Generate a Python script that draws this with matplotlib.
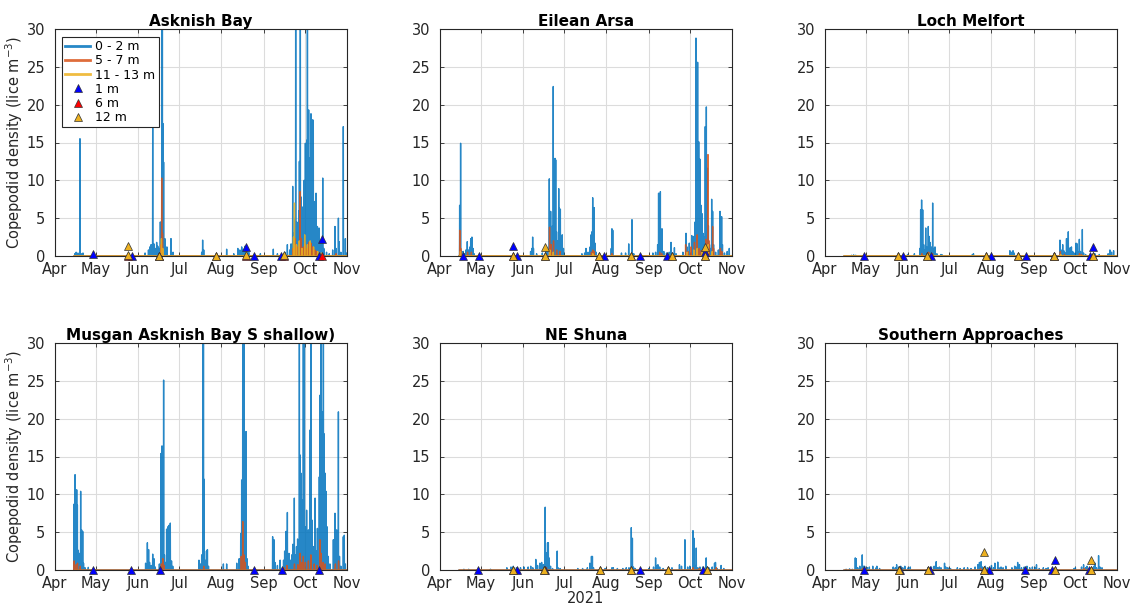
"""
Modelled copepodid densities at six sites, April - November 2021,
with observed densities from plankton samples overlaid.
"""

from datetime import datetime

import numpy as np
import matplotlib
matplotlib.use("Agg")
import matplotlib.pyplot as plt
import matplotlib.dates as mdates

plt.rcParams["font.family"] = ["DejaVu Sans"]

START = datetime(2021, 4, 1)
RUN_START = 14.0   # model output begins mid April (days after 1 Apr)
RUN_END = 214.0    # 1 Nov

SITES = ["Asknish Bay", "Eilean Arsa", "Loch Melfort",
         "Musgan Asknish Bay S shallow)", "NE Shuna", "Southern Approaches"]

# (days after 1 Apr, density) for peaks in each depth band
ASKNISH_0_2 = [
    (14.5, 0.3), (15.5, 0.5), (16.8, 0.4), (18.3, 15.5), (19.2, 0.3), (20.5, 0.4),
    (66.0, 0.4), (68.5, 0.8), (69.5, 1.2), (70.4, 1.5), (71.6, 16.9), (72.5, 1.6),
    (73.5, 1.0), (74.5, 1.8), (75.3, 1.3), (76.2, 1.0), (77.2, 4.5), (77.8, 2.0),
    (78.3, 45.0), (78.7, 30.5), (79.1, 17.5), (79.6, 12.4), (80.5, 2.3), (82.0, 1.2),
    (85.0, 2.3), (86.5, 0.5),
    (107.5, 0.5), (108.2, 2.1), (109.0, 0.8), (125.8, 0.9), (131.0, 0.3), (134.0, 1.0),
    (135.5, 0.8), (136.8, 1.2), (138.0, 0.9), (139.2, 1.3), (140.5, 0.8), (142.0, 0.5),
    (150.5, 0.3), (160.0, 0.9), (163.0, 0.3),
    (168.5, 0.5), (170.3, 1.5), (172.0, 0.8), (173.0, 1.6), (174.2, 9.2), (175.0, 3.0),
    (175.8, 5.0), (176.4, 45.0), (177.2, 4.5), (178.0, 2.5), (178.6, 6.0), (179.1, 12.5),
    (179.8, 40.0), (180.3, 7.8), (181.0, 4.5), (181.8, 6.5), (182.6, 10.0), (183.5, 14.9),
    (184.0, 8.0), (184.5, 15.3), (185.0, 50.0), (185.5, 12.0), (185.9, 19.3), (186.5, 9.0),
    (187.0, 13.0), (187.6, 18.8), (188.2, 6.0), (188.9, 18.0), (189.3, 17.9), (190.1, 7.2),
    (190.6, 3.5), (191.3, 8.3), (191.8, 2.5), (192.3, 3.9), (193.5, 3.7), (194.2, 1.5),
    (195.0, 2.0), (196.2, 10.3), (197.0, 1.0), (199.0, 0.5), (201.0, 0.3), (203.5, 0.8),
    (205.2, 3.9), (206.0, 1.0), (207.7, 5.0), (208.3, 1.9), (209.5, 0.5), (211.3, 17.1),
    (212.8, 2.3), (213.5, 0.4),
]
ASKNISH_5_7 = [
    (77.8, 1.5), (78.2, 10.3), (78.8, 3.0), (174.5, 1.0), (176.0, 2.3), (177.5, 1.2),
    (179.6, 8.5), (180.5, 2.3), (182.0, 1.2), (183.5, 1.5), (184.8, 1.0), (186.0, 1.8),
    (187.5, 1.7), (189.0, 1.2), (190.5, 0.8), (192.0, 0.6), (194.0, 0.4), (206.0, 0.3),
]
ASKNISH_11_13 = [
    (78.0, 2.3), (79.0, 1.0), (174.8, 2.5), (175.5, 7.0), (177.0, 1.5), (179.0, 2.0),
    (181.0, 1.0), (183.0, 2.8), (185.0, 1.5), (187.0, 2.0), (189.5, 1.2), (192.5, 0.6),
    (195.5, 0.4),
]

EILEAN_0_2 = [
    (14.4, 6.7), (15.1, 14.9), (15.8, 0.6), (17.0, 0.6), (18.0, 0.3), (19.0, 0.8),
    (20.0, 1.9), (21.0, 0.8), (22.0, 1.2), (22.5, 2.3), (23.4, 2.5), (24.2, 1.0), (25.0, 0.3),
    (66.4, 0.6), (67.4, 1.0), (67.9, 2.5), (68.5, 1.0), (70.8, 0.3), (75.0, 0.4), (77.5, 0.6),
    (78.5, 0.8), (80.1, 10.2), (80.6, 3.0), (81.1, 5.9), (81.8, 2.0), (82.5, 4.0), (83.0, 22.4),
    (83.6, 3.5), (84.3, 12.9), (84.8, 12.7), (85.4, 3.2), (86.0, 2.0), (87.0, 8.9), (87.4, 6.3),
    (88.2, 6.2), (88.8, 2.0), (89.6, 2.8), (90.5, 1.0),
    (104.0, 0.3), (106.0, 0.4), (107.0, 1.0), (108.5, 0.5), (110.0, 1.2), (110.7, 2.8),
    (111.4, 3.2), (111.9, 7.7), (112.9, 6.4), (113.6, 1.7), (114.5, 0.5), (125.5, 1.0),
    (126.0, 3.6), (126.6, 3.4), (133.0, 0.4), (136.0, 0.4), (138.3, 1.6), (140.7, 4.8),
    (142.0, 0.3),
    (156.0, 0.4), (158.0, 0.5), (159.5, 1.5), (160.2, 8.3), (161.5, 8.5), (162.0, 2.0),
    (162.7, 3.6), (164.0, 0.6), (166.0, 0.4), (168.0, 0.5), (169.3, 1.8), (171.8, 1.1),
    (173.0, 0.3),
    (178.0, 0.5), (180.3, 3.0), (181.0, 1.2), (182.7, 1.7), (184.5, 2.7), (185.3, 2.5),
    (186.2, 2.6), (187.0, 4.5), (187.6, 28.8), (188.2, 14.2), (188.8, 25.6), (189.2, 9.2),
    (189.6, 15.1), (190.0, 6.2), (190.5, 12.8), (191.3, 6.7), (192.0, 5.6), (192.7, 3.0),
    (193.5, 2.5), (194.4, 17.1), (195.2, 19.7), (196.0, 11.6), (196.7, 4.0), (197.5, 1.5),
    (198.4, 1.0), (199.1, 7.5), (199.8, 5.9), (200.5, 1.5), (202.0, 0.5), (204.0, 0.8),
    (205.2, 5.9), (206.4, 5.2), (207.0, 1.5), (208.5, 0.4), (210.5, 0.6), (212.0, 1.0),
]
EILEAN_5_7 = [
    (14.5, 3.4), (15.2, 1.0), (20.2, 0.5), (23.0, 0.5), (80.3, 3.8), (81.5, 1.5), (83.2, 2.0),
    (85.5, 0.8), (88.0, 0.6), (111.0, 0.5), (112.0, 0.8), (113.0, 0.6), (126.0, 0.3),
    (161.0, 0.5), (162.5, 0.3), (180.0, 1.5), (182.0, 0.6), (184.0, 1.2), (186.5, 1.8),
    (188.5, 2.8), (190.0, 1.0), (191.5, 0.7), (193.0, 0.4), (194.8, 2.2), (196.4, 13.4),
    (197.2, 2.0), (199.8, 3.9), (200.5, 1.0), (205.5, 1.0), (206.5, 0.6),
]
EILEAN_11_13 = [
    (15.0, 0.6), (80.5, 0.8), (83.0, 0.5), (112.0, 0.3), (181.0, 0.5), (186.0, 0.8),
    (188.5, 1.0), (192.0, 0.5), (195.0, 0.8), (196.5, 1.5), (199.5, 0.6),
]

MELFORT_0_2 = [
    (19.5, 0.1), (21.0, 0.15), (22.5, 0.1), (60.5, 0.2), (65.5, 0.3), (69.5, 1.0),
    (70.1, 6.1), (70.8, 7.4), (71.6, 6.1), (72.3, 1.5), (73.0, 0.8), (73.8, 3.7), (74.5, 1.2),
    (75.7, 3.9), (76.2, 2.6), (77.0, 1.8), (77.8, 1.2), (78.9, 7.0), (79.5, 1.0), (80.6, 1.2),
    (82.0, 0.3), (85.0, 0.2), (86.0, 0.15),
    (108.0, 0.2), (108.8, 0.3), (135.5, 0.7), (136.8, 0.5), (137.8, 0.7), (138.6, 0.4),
    (172.2, 2.1), (173.0, 0.8), (174.2, 1.5), (175.0, 0.7), (176.2, 0.4), (177.0, 2.3),
    (178.3, 3.2), (179.0, 1.0), (179.8, 1.1), (180.6, 1.2), (181.5, 0.6), (182.5, 0.4),
    (184.0, 1.7), (184.9, 1.6), (185.5, 0.5), (186.4, 2.2), (187.2, 0.6), (188.6, 3.5),
    (189.5, 0.4), (191.0, 0.2), (196.5, 0.2), (197.8, 0.3), (201.0, 0.2), (207.5, 0.3),
    (208.8, 0.8), (210.0, 0.5), (211.5, 0.7),
]
MELFORT_5_7 = [(71.0, 0.3), (76.0, 0.5), (78.8, 0.3), (172.5, 0.6), (175.5, 0.2),
               (186.5, 0.3), (188.0, 0.2)]
MELFORT_11_13 = [(76.0, 0.3), (172.8, 0.2)]

MUSGAN_0_2 = [
    (13.9, 8.7), (14.7, 12.6), (15.4, 4.4), (15.9, 10.6), (16.4, 8.6), (17.1, 2.6),
    (17.8, 2.2), (18.8, 10.4), (19.5, 5.3), (20.3, 5.1), (20.9, 0.9), (22.0, 0.3), (24.4, 0.35),
    (66.4, 0.9), (67.7, 3.6), (68.6, 2.7), (69.3, 1.0), (70.5, 0.6), (71.6, 2.1), (72.5, 1.5),
    (73.5, 0.4), (76.5, 0.8), (77.7, 15.4), (78.4, 16.4), (78.9, 7.5), (79.6, 25.1),
    (80.2, 2.0), (80.9, 1.0), (81.8, 5.4), (82.6, 5.7), (83.5, 5.9), (84.5, 6.2), (85.4, 1.2),
    (86.3, 0.5),
    (105.5, 1.3), (106.5, 0.8), (107.5, 2.0), (108.4, 38.0), (108.8, 34.0), (109.2, 12.0),
    (110.0, 1.3), (111.0, 2.5), (111.7, 2.7), (112.5, 0.5),
    (123.4, 0.8), (125.8, 0.8), (133.2, 0.9), (135.0, 1.5), (136.1, 4.8), (136.8, 11.9),
    (137.2, 6.0), (137.6, 40.0), (138.0, 11.3), (138.5, 35.0), (139.3, 9.3), (140.0, 18.3),
    (140.7, 1.5), (141.5, 0.5),
    (159.5, 4.4), (160.5, 4.0), (161.2, 1.0), (163.0, 0.6), (165.0, 1.3), (167.5, 1.3),
    (168.3, 2.5), (169.3, 5.1), (170.3, 7.6), (171.5, 2.2), (172.5, 1.3), (173.5, 2.0),
    (174.3, 3.4), (175.4, 9.5), (176.2, 2.0), (177.0, 3.1), (177.8, 4.1), (179.1, 40.0),
    (179.6, 15.2), (180.2, 12.8), (180.8, 7.5), (181.4, 9.3), (182.0, 45.0), (182.8, 40.0),
    (183.5, 5.7), (184.4, 7.9), (185.7, 5.3), (186.3, 3.0), (186.9, 18.5), (187.6, 45.0),
    (188.3, 6.6), (189.2, 3.1), (190.6, 9.5), (191.5, 2.5), (192.3, 5.5), (193.0, 1.5),
    (193.7, 12.3), (194.2, 23.1), (195.0, 50.0), (195.7, 20.3), (196.2, 20.9), (196.7, 45.0),
    (197.2, 18.0), (197.9, 12.8), (198.6, 10.4), (199.5, 5.7), (200.3, 1.8), (201.5, 0.8),
    (204.0, 4.0), (205.2, 7.5), (205.8, 3.0), (206.4, 5.3), (207.7, 20.9), (208.5, 1.8),
    (209.5, 0.5), (211.3, 4.4), (212.0, 4.6), (212.8, 0.8),
]
MUSGAN_5_7 = [
    (14.0, 1.2), (15.5, 0.7), (16.5, 0.9), (18.5, 0.5), (78.0, 0.8), (79.0, 1.5), (80.0, 0.6),
    (109.0, 0.5), (136.5, 1.8), (137.6, 6.4), (138.5, 2.0), (139.5, 1.0), (168.0, 0.3),
    (170.0, 0.6), (175.5, 0.8), (178.0, 0.7), (179.6, 2.2), (181.0, 1.0), (182.0, 1.8),
    (183.5, 1.0), (185.7, 1.2), (187.5, 2.0), (190.0, 0.8), (192.0, 0.6), (194.2, 4.0),
    (195.0, 2.2), (196.5, 1.0), (198.0, 0.8), (205.5, 0.8), (207.8, 1.2),
]
MUSGAN_11_13 = []

SHUNA_0_2 = [
    (17.5, 0.1), (21.0, 0.1), (28.0, 0.1), (37.0, 0.1), (49.0, 0.3), (52.0, 0.4), (53.7, 0.5),
    (56.0, 0.3), (59.0, 0.3), (61.5, 0.4), (64.6, 0.4), (66.5, 0.5), (68.0, 0.3), (70.2, 1.4),
    (71.5, 0.6), (73.2, 0.9), (74.5, 1.0), (75.8, 0.7), (77.1, 8.3), (77.6, 1.3), (78.0, 2.3),
    (78.8, 3.6), (79.4, 3.6), (79.9, 1.6), (81.0, 0.5), (82.5, 0.2), (85.9, 2.5), (86.5, 0.3),
    (88.0, 0.2),
    (101.0, 0.2), (104.5, 0.2), (108.0, 0.3), (109.8, 0.9), (111.0, 1.8), (111.7, 1.8),
    (112.5, 0.3), (121.0, 0.2), (126.0, 0.3), (127.0, 0.3), (130.0, 0.2), (134.0, 0.2),
    (136.5, 0.3), (138.5, 0.3), (140.2, 5.6), (141.0, 4.2), (141.8, 0.4), (143.0, 0.2),
    (153.0, 0.2), (156.5, 0.4), (158.0, 1.6), (158.5, 0.6), (159.7, 0.7), (161.0, 0.4),
    (163.5, 0.2), (167.0, 0.2), (170.0, 0.3), (175.5, 0.7), (177.0, 0.5), (179.5, 4.0),
    (181.5, 0.4), (183.0, 0.5), (185.4, 5.2), (186.1, 4.2), (186.8, 0.6), (187.8, 2.9),
    (189.0, 0.3), (190.5, 0.4), (192.5, 0.4), (195.1, 1.6), (197.0, 0.3), (199.5, 0.4),
    (201.2, 0.9), (201.9, 1.0), (203.0, 0.2), (206.0, 0.6), (208.0, 0.2),
]
SHUNA_5_7 = [(78.0, 0.3), (140.5, 0.2), (185.5, 0.3), (190.0, 0.2), (202.5, 0.3)]
SHUNA_11_13 = []

SOUTH_0_2 = [
    (15.5, 0.1), (18.0, 0.15), (20.0, 0.1), (22.2, 1.6), (22.9, 1.5), (24.0, 0.3), (25.5, 0.5),
    (27.3, 2.0), (28.3, 0.5), (29.0, 0.5), (31.0, 0.3), (32.5, 0.4), (35.0, 0.5), (37.5, 0.3),
    (38.0, 0.5), (40.0, 0.2),
    (50.0, 0.4), (51.5, 0.3), (52.5, 0.7), (54.0, 0.4), (55.5, 0.5), (57.0, 0.3), (58.5, 0.5),
    (61.0, 0.3), (62.5, 0.4),
    (75.5, 0.3), (78.0, 0.4), (80.0, 0.5), (81.5, 1.1), (82.5, 0.3), (83.8, 0.4), (85.0, 0.3),
    (87.6, 0.9), (88.5, 0.4), (90.0, 0.3), (92.0, 0.2),
    (97.0, 0.3), (99.0, 0.2), (102.0, 0.3), (104.5, 0.3), (107.0, 0.2), (110.0, 0.4),
    (112.0, 0.7), (113.2, 1.0), (114.4, 1.1), (115.5, 0.4), (117.5, 0.5), (119.0, 0.3),
    (122.0, 0.6), (123.5, 0.3), (124.5, 0.9), (126.6, 1.05), (127.5, 0.3), (129.0, 0.4),
    (130.5, 0.3), (132.5, 0.5),
    (137.0, 0.3), (139.0, 0.5), (140.0, 0.4), (141.2, 1.0), (142.5, 0.7), (144.0, 0.3),
    (146.0, 0.4), (148.0, 0.5), (150.0, 0.3), (152.0, 0.4), (154.0, 0.3), (155.0, 0.7),
    (157.0, 0.2), (160.0, 0.3), (162.0, 0.2), (163.5, 0.3),
    (182.5, 0.2), (183.5, 0.3), (188.0, 0.4), (189.5, 0.7), (191.0, 0.3), (192.0, 0.5),
    (195.5, 0.3), (197.0, 0.5), (198.0, 0.9), (199.0, 0.3), (200.5, 1.9), (201.5, 0.4),
    (203.0, 0.3),
]
SOUTH_5_7 = [(27.5, 0.2), (114.0, 0.2), (190.0, 0.2)]
SOUTH_11_13 = []

# observed densities from net samples: (days after 1 Apr, density)
ASKNISH_OBS_1M = [(27.6, 0.2), (56.2, 0.0), (76.2, 0.0), (140.0, 1.2), (145.9, 0.0),
                  (165.4, 0.0), (193.7, 0.0), (195.4, 2.3)]
ASKNISH_OBS_6M = [(53.7, 0.0), (76.2, 0.0), (118.0, 0.0), (140.0, 0.0), (167.9, 0.0),
                  (195.4, 0.0)]
ASKNISH_OBS_12M = [(53.7, 1.3), (53.7, 0.1), (76.2, 0.0), (118.0, 0.0), (140.0, 0.1),
                   (167.9, 0.1)]

EILEAN_OBS_1M = [(17.1, 0.0), (28.3, 0.0), (53.2, 1.3), (56.7, 0.0), (120.4, 0.0),
                 (146.6, 0.0), (166.1, 0.0), (194.2, 0.5)]
EILEAN_OBS_6M = [(53.2, 0.0), (77.2, 0.0), (116.3, 0.0), (140.0, 0.0), (170.0, 0.0),
                 (194.4, 0.0)]
EILEAN_OBS_12M = [(53.2, 0.0), (77.2, 1.2), (77.2, 0.0), (116.3, 0.0), (140.0, 0.0),
                  (170.0, 0.0), (194.4, 1.2), (194.4, 0.0)]

MELFORT_OBS_1M = [(28.6, 0.0), (56.9, 0.0), (77.4, 0.0), (121.4, 0.0), (147.0, 0.0),
                  (167.8, 0.0), (194.2, 0.0), (196.1, 1.2)]
MELFORT_OBS_6M = [(53.7, 0.0), (75.0, 0.0), (118.0, 0.0), (141.2, 0.0), (167.8, 0.0),
                  (196.1, 0.0)]
MELFORT_OBS_12M = [(53.7, 0.0), (75.0, 0.0), (118.0, 0.0), (141.2, 0.0), (167.8, 0.0),
                   (196.1, 0.0)]

MUSGAN_OBS_1M = [(27.6, 0.0), (55.7, 0.0), (77.0, 0.0), (146.2, 0.0), (166.3, 0.0),
                 (193.6, 0.0)]
MUSGAN_OBS_6M = []
MUSGAN_OBS_12M = []

SHUNA_OBS_1M = [(28.0, 0.0), (56.6, 0.0), (77.3, 0.0), (146.3, 0.0), (192.7, 0.0)]
SHUNA_OBS_6M = [(53.2, 0.0), (76.1, 0.0), (117.0, 0.0), (140.0, 0.0), (167.0, 0.0),
                (195.9, 0.0)]
SHUNA_OBS_12M = [(53.2, 0.0), (76.1, 0.0), (117.0, 0.0), (140.0, 0.0), (167.0, 0.0),
                 (195.9, 0.0)]

SOUTH_OBS_1M = [(28.3, 0.0), (55.1, 0.0), (77.0, 0.0), (120.5, 0.0), (146.6, 0.0),
                (166.3, 0.0), (168.3, 1.3), (193.7, 0.0)]
SOUTH_OBS_6M = [(54.1, 0.0), (75.4, 0.0), (116.8, 0.0), (168.8, 0.0), (194.9, 0.0)]
SOUTH_OBS_12M = [(54.1, 0.0), (75.4, 0.0), (116.8, 2.4), (116.8, 0.0), (168.8, 0.0),
                 (194.9, 1.3), (194.9, 0.0)]

MODEL = [
    (ASKNISH_0_2, ASKNISH_5_7, ASKNISH_11_13),
    (EILEAN_0_2, EILEAN_5_7, EILEAN_11_13),
    (MELFORT_0_2, MELFORT_5_7, MELFORT_11_13),
    (MUSGAN_0_2, MUSGAN_5_7, MUSGAN_11_13),
    (SHUNA_0_2, SHUNA_5_7, SHUNA_11_13),
    (SOUTH_0_2, SOUTH_5_7, SOUTH_11_13),
]
OBS = [
    (ASKNISH_OBS_1M, ASKNISH_OBS_6M, ASKNISH_OBS_12M),
    (EILEAN_OBS_1M, EILEAN_OBS_6M, EILEAN_OBS_12M),
    (MELFORT_OBS_1M, MELFORT_OBS_6M, MELFORT_OBS_12M),
    (MUSGAN_OBS_1M, MUSGAN_OBS_6M, MUSGAN_OBS_12M),
    (SHUNA_OBS_1M, SHUNA_OBS_6M, SHUNA_OBS_12M),
    (SOUTH_OBS_1M, SOUTH_OBS_6M, SOUTH_OBS_12M),
]

BAND_LABELS = ["0 - 2 m", "5 - 7 m", "11 - 13 m"]
OBS_LABELS = ["1 m", "6 m", "12 m"]
BAND_COLORS = ["#0072BD", "#D95319", "#EDB120"]
OBS_COLORS = ["#0000FF", "#FF0000", "#EDB120"]

T0 = mdates.date2num(START)


def spike_series(peaks, half_width=0.12):
    """Expand (day, value) peaks into a zero-based series of narrow spikes."""
    t = [RUN_START]
    y = [0.0]
    for day, val in sorted(peaks):
        t += [day - half_width, day, day + half_width]
        y += [0.0, val, 0.0]
    t.append(RUN_END)
    y.append(0.0)
    return T0 + np.array(t), np.array(y)


def style_axes(ax):
    ax.set_xlim(T0, T0 + RUN_END)
    ax.set_ylim(0, 30)
    ax.set_yticks(range(0, 31, 5))
    ax.xaxis.set_major_locator(mdates.MonthLocator())
    ax.xaxis.set_major_formatter(mdates.DateFormatter("%b"))
    ax.grid(True, color="#dcdcdc", linewidth=0.8)
    ax.set_axisbelow(True)
    ax.tick_params(direction="in", top=True, right=True, length=3,
                   labelsize=10.5, colors="#262626", width=0.6)
    ax.tick_params(axis="y", pad=7)
    ax.tick_params(axis="x", pad=4)
    for sp in ax.spines.values():
        sp.set_color("#262626")
        sp.set_linewidth(0.8)


def main() -> None:
    fig = plt.figure(figsize=(11.36, 6.05), dpi=100)
    W, H = 1136.0, 605.0
    lefts = [55, 440, 825]
    tops = [29, 343]
    aw, ah = 292, 227

    axes = []
    for i, site in enumerate(SITES):
        row, col = divmod(i, 3)
        ax = fig.add_axes([lefts[col] / W, 1 - (tops[row] + ah) / H, aw / W, ah / H])
        axes.append(ax)

        for peaks, color, label in zip(MODEL[i], BAND_COLORS, BAND_LABELS):
            t, y = spike_series(peaks)
            ax.plot(t, y, color=color, linewidth=1.0, alpha=0.85, label=label)

        for pts, color, label in zip(OBS[i], OBS_COLORS, OBS_LABELS):
            days = np.array([p[0] for p in pts], dtype=float)
            vals = np.array([p[1] for p in pts], dtype=float)
            ax.plot(T0 + days, vals, linestyle="none", marker="^", markersize=6,
                    markerfacecolor=color, markeredgecolor="#333333",
                    markeredgewidth=0.5, label=label, clip_on=False, zorder=5)

        style_axes(ax)
        ax.set_title(site, fontsize=11, fontweight="bold", pad=2)
        if col == 0:
            ax.set_ylabel("Copepodid density (lice m$^{-3}$)", fontsize=10.5,
                          color="#262626", labelpad=1)

    axes[4].set_xlabel("2021", fontsize=10.5, color="#262626", labelpad=0)

    leg = axes[0].legend(loc="upper left", bbox_to_anchor=(0.025, 0.965),
                         fontsize=9, frameon=True, fancybox=False,
                         borderaxespad=0.0, handlelength=2.0, handletextpad=0.4,
                         labelspacing=0.1, borderpad=0.25)
    leg.get_frame().set_edgecolor("#262626")
    leg.get_frame().set_linewidth(0.8)
    leg.get_frame().set_alpha(1.0)
    for line in leg.get_lines()[:3]:
        line.set_linewidth(2.0)

    fig.savefig("out.png", dpi=100)
    plt.close(fig)


if __name__ == "__main__":
    main()
